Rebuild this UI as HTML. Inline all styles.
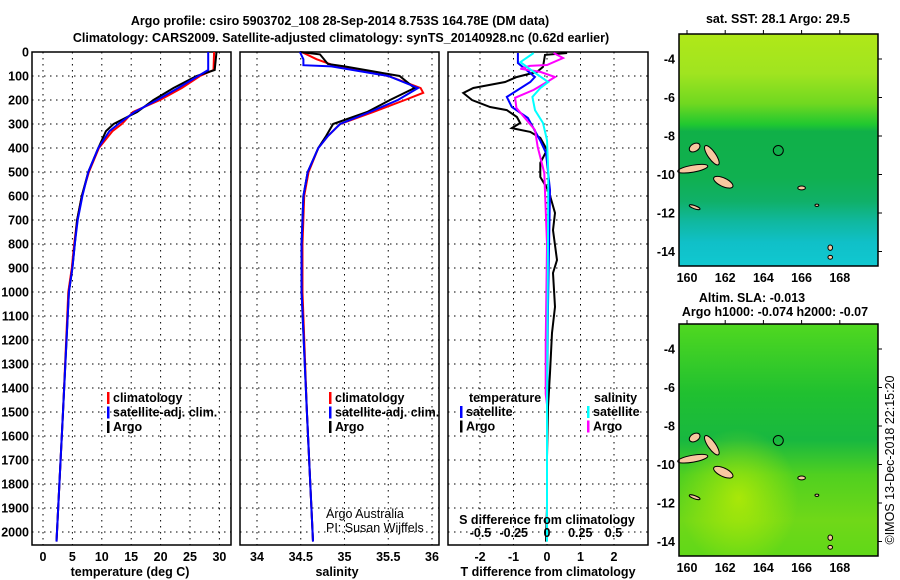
<!DOCTYPE html>
<html><head><meta charset="utf-8"><style>
body{margin:0;background:#fff}
svg{display:block;font-family:"Liberation Sans",sans-serif;font-weight:bold}
text{font-size:12.5px;fill:#000}
.n{font-weight:normal}
</style></head><body>
<svg id="s" width="900" height="580" viewBox="0 0 900 580" xmlns="http://www.w3.org/2000/svg">
<defs>
<linearGradient id="sst" x1="0" y1="0" x2="0" y2="1">
<stop offset="0" stop-color="#b0e818"/><stop offset="0.17" stop-color="#a0e420"/><stop offset="0.3" stop-color="#70d820"/><stop offset="0.39" stop-color="#20c830"/><stop offset="0.42" stop-color="#10b048"/><stop offset="0.62" stop-color="#10b050"/><stop offset="0.72" stop-color="#10b068"/><stop offset="0.81" stop-color="#10b8a0"/><stop offset="0.9" stop-color="#10c0c8"/><stop offset="1" stop-color="#10c8d0"/>
</linearGradient>
<linearGradient id="sla" x1="0" y1="0" x2="0" y2="1">
<stop offset="0" stop-color="#50d820"/><stop offset="0.3" stop-color="#20c030"/><stop offset="0.5" stop-color="#18b840"/><stop offset="0.65" stop-color="#50d020"/><stop offset="0.85" stop-color="#70d818"/><stop offset="1" stop-color="#60d818"/>
</linearGradient>
<radialGradient id="slaY" cx="0.3" cy="0.75" r="0.3"><stop offset="0" stop-color="#c8f000" stop-opacity="0.7"/><stop offset="1" stop-color="#c8f000" stop-opacity="0"/></radialGradient>
</defs>
<text x="340" y="25" text-anchor="middle">Argo profile: csiro 5903702_108 28-Sep-2014 8.753S 164.78E (DM data)</text>
<text x="341" y="42" text-anchor="middle">Climatology: CARS2009. Satellite-adjusted climatology: synTS_20140928.nc (0.62d earlier)</text>
<g id="g"></g>
</svg>
<script>
// ---- data ----
const depthTicks=[0,100,200,300,400,500,600,700,800,900,1000,1100,1200,1300,1400,1500,1600,1700,1800,1900,2000];
const tempTicks=[0,5,10,15,20,25,30];
const salTicks=[34,34.5,35,35.5,36];
const tdiffTicks=[-2,-1,0,1,2];
const sdiffTicks=[-0.5,-0.25,0,0.25,0.5];
const sdiffTickLabels=["-0.5","-0.25","0","0.25","0.5"];
const latTicks=[-4,-6,-8,-10,-12,-14];
const lonTicks=[160,162,164,166,168];

const tArgoD=[0,75,100,150,200,250,300,330,400,500,600,700,800,900,1000,1500,2040];
const tArgo=[29.5,29.2,26.1,22.2,18.8,16,12,10.7,9.4,7.7,6.6,5.8,5.4,5.0,4.4,3.4,2.3];
const tClimD=[0,75,100,150,200,250,300,330,400,500,600,700,800,900,1000,1500,2040];
const tClim=[29.1,29.0,26.7,23.6,19.9,15.3,13.4,11.8,9.5,7.8,6.6,5.8,5.3,4.9,4.3,3.4,2.3];
const tSatD=[0,75,100,150,200,250,300,330,400,500,600,700,800,900,1000,1500,2040];
const tSat=[28.1,28.1,26.4,23.0,19.4,15.6,12.8,11.3,9.4,7.7,6.7,5.9,5.4,5.0,4.4,3.4,2.3];

const sArgoD=[0,10,50,60,100,150,200,250,300,350,400,500,600,800,1000,1500,2040];
const sArgo=[34.49,34.72,34.81,35.0,35.63,35.8,35.52,35.26,34.87,34.79,34.7,34.58,34.53,34.51,34.51,34.57,34.64];
const sClimD=[0,30,55,100,150,170,200,250,300,350,400,500,600,800,1000,1500,2040];
const sClim=[34.51,34.68,34.87,35.5,35.87,35.9,35.69,35.33,34.95,34.81,34.7,34.59,34.54,34.52,34.52,34.57,34.64];
const sSatD=[0,30,55,60,100,150,200,250,300,350,400,500,600,800,1000,1500,2040];
const sSat=[34.49,34.53,34.53,34.85,35.5,35.84,35.61,35.29,34.95,34.81,34.7,34.58,34.53,34.51,34.51,34.57,34.64];

const dTArgoD=[4,12,62,83,104,125,150,171,200,229,242,271,296,317,333,358,408,462,521,567,604,671,742,867,921,1062,1171,1337,1479,1687,1896,2040];
const dTArgo=[0.6,-0.06,-0.12,-0.3,-0.9,-1.25,-2.2,-2.5,-2.24,-1.7,-1.2,-0.9,-0.8,-1.05,-0.5,-0.2,0,-0.2,-0.2,0,0.1,0.24,0.18,0.3,0.18,0.24,0.15,0.09,0.03,0,0,-0.03];
const dTSatD=[4,46,104,125,158,187,229,275,367,421,575,1062,1500];
const dTSat=[-0.87,-0.87,-0.36,-0.5,-0.87,-1.2,-1.05,-0.57,-0.21,-0.03,0.09,0.03,0];
const dSSatD=[4,42,83,125,150,187,242,296,367,504,1000,1500,2040];
const dSSat=[-0.1,-0.2,-0.1,0.01,-0.05,-0.11,-0.09,-0.03,0,0.01,0.005,0,0];
const dSArgoD=[4,25,54,58,70,83,104,125,158,191,233,325,396,504,800,1217,1425,1470];
const dSArgo=[0.05,0.12,0,-0.13,-0.2,-0.05,0.06,0,-0.1,-0.24,-0.23,-0.09,-0.07,-0.02,0,-0.01,-0.01,0];

const floatLon=164.78, floatLat=-8.753;
const islands=[[160.3,-9.7,0.8,0.18,-10],[160.4,-8.6,0.2,0.3,60],[161.3,-9.0,0.2,0.6,-35],[161.9,-10.4,0.55,0.22,25],[160.4,-11.7,0.3,0.08,20],[166.0,-10.7,0.2,0.1,0],[167.5,-13.8,0.12,0.14,0],[167.5,-14.3,0.12,0.1,0],[166.8,-11.6,0.1,0.06,0]];

// ---- helpers ----
const NS="http://www.w3.org/2000/svg";
const G=document.getElementById('g');
function mk(tag,at,parent){const e=document.createElementNS(NS,tag);for(const k in at)e.setAttribute(k,at[k]);(parent||G).appendChild(e);return e;}
const y=d=>52+d*0.24;
const yBot=545;
const xT=v=>43+v*5.88;
const xS=v=>257+(v-34)*87.5;
const xDT=v=>547+v*33.5;
const xDS=v=>547+v*133;

function panel(name,x0,x1,gridXs){
  const g=mk('g',{});
  
  
  depthTicks.forEach(d=>{const l=mk('line',{x1:x0,x2:x1,y1:y(d),y2:y(d),stroke:'#000','stroke-width':1,'stroke-dasharray':'1.5 4.5'},g);
    
    });
  gridXs.forEach(x=>{const l=mk('line',{x1:x,x2:x,y1:52,y2:yBot,stroke:'#000','stroke-width':1,'stroke-dasharray':'1.5 4.5'},g);
    
    });
  const r=mk('rect',{x:x0,y:52,width:x1-x0,height:yBot-52,fill:'none',stroke:'#000','stroke-width':1.5},g);
  
  
  return g;
}
function line(g,name,xs,ds,fx,color){
  const p=mk('polyline',{points:xs.map((v,i)=>fx(v).toFixed(1)+','+y(ds[i]).toFixed(1)).join(' '),fill:'none',stroke:color,'stroke-width':2},g);
  
  
}
function txt(s,x,yy,anchor,name,cls,size){
  const t=mk('text',{x:x,y:yy,'text-anchor':anchor||'start'});
  t.textContent=s;
  if(cls)t.setAttribute('class',cls);
  if(size)t.setAttribute('style','font-size:'+size+'px');
  
  
  return t;
}
function legend(x,y0,items,name){
  items.forEach((it,i)=>{
    const r=mk('rect',{x:x,y:y0+i*14.5-10,width:2.5,height:12,fill:it[1]});
    
    
    txt(it[0],x+6,y0+i*14.5,'start',name+'-entry');
  });
}

depthTicks.forEach(d=>txt(String(d),29,y(d)+4.5,'end','depth-tick-label'));

const p1=panel('temperature-panel',32,231,tempTicks.map(xT));
line(p1,'temp-climatology-line',tClim,tClimD,xT,'#f00');
line(p1,'temp-argo-line',tArgo,tArgoD,xT,'#000');
line(p1,'temp-satellite-line',tSat,tSatD,xT,'#00f');
tempTicks.forEach(v=>txt(String(v),xT(v),561,'middle','temp-tick-label'));
txt('temperature (deg C)',130,576,'middle','temp-axis-title');
legend(107,402,[['climatology','#f00'],['satellite-adj. clim.','#00f'],['Argo','#000']],'temp-legend');

const p2=panel('salinity-panel',240,439,salTicks.map(xS));
line(p2,'sal-climatology-line',sClim,sClimD,xS,'#f00');
line(p2,'sal-argo-line',sArgo,sArgoD,xS,'#000');
line(p2,'sal-satellite-line',sSat,sSatD,xS,'#00f');
salTicks.forEach(v=>txt(String(v),xS(v),561,'middle','sal-tick-label'));
txt('salinity',337,576,'middle','sal-axis-title');
legend(329,402,[['climatology','#f00'],['satellite-adj. clim.','#00f'],['Argo','#000']],'sal-legend');
txt('Argo Australia',326,518,'start','credit-line-1','n');
txt('PI: Susan Wijffels',326,532,'start','credit-line-2','n');

const p3=panel('difference-panel',448,648,tdiffTicks.map(xDT));
line(p3,'tdiff-argo-line',dTArgo,dTArgoD,xDT,'#000');
line(p3,'tdiff-satellite-line',dTSat,dTSatD,xDT,'#00f');
line(p3,'sdiff-argo-line',dSArgo,dSArgoD,xDS,'#f0f');
line(p3,'sdiff-satellite-line',dSSat,dSSatD,xDS,'#0ff');
tdiffTicks.forEach(v=>txt(String(v),xDT(v),561,'middle','tdiff-tick-label'));
txt('T difference from climatology',548,576,'middle','tdiff-axis-title');
sdiffTicks.forEach((v,i)=>txt(sdiffTickLabels[i],xDS(v),537,'middle','sdiff-tick-label'));
txt('S difference from climatology',547,524,'middle','sdiff-axis-title');
txt('temperature',469,402,'start','tdiff-legend-title');
legend(460,416,[['satellite','#00f'],['Argo','#000']],'tdiff-legend');
txt('salinity',594,402,'start','sdiff-legend-title');
legend(587,416,[['satellite','#0ff'],['Argo','#f0f']],'sdiff-legend');

function map(name,top,fill,extra){
  const x0=679,x1=878,y1=top+232;
  const mx=lon=>687+(lon-160)*19.1;
  const my=lat=>top+25+(-4-lat)*19.25;
  const g=mk('g',{});
  
  
  mk('rect',{x:x0,y:top,width:x1-x0,height:y1-top,fill:fill},g);
  if(extra)mk('rect',{x:x0,y:top,width:x1-x0,height:y1-top,fill:extra},g);
  islands.forEach(s=>{const e=mk('ellipse',{cx:mx(s[0]),cy:my(s[1]),rx:s[2]*19.1,ry:s[3]*19.25,fill:'#f8c8a0',stroke:'#000','stroke-width':1,transform:'rotate('+s[4]+' '+mx(s[0])+' '+my(s[1])+')'},g);
    
    });
  const c=mk('circle',{cx:mx(floatLon),cy:my(floatLat),r:5,fill:'none',stroke:'#000','stroke-width':1},g);
  
  
  const f=mk('rect',{x:x0,y:top,width:x1-x0,height:y1-top,fill:'none',stroke:'#000','stroke-width':1.5},g);
  
  
  latTicks.forEach(l=>{mk('line',{x1:x1,x2:x1+4,y1:my(l),y2:my(l),stroke:'#000'},g);
    txt(String(l),675,my(l)+4.5,'end','lat-tick-label');});
  lonTicks.forEach(l=>{mk('line',{x1:mx(l),x2:mx(l),y1:top-4,y2:top,stroke:'#000'},g);
    txt(String(l),mx(l),y1+16,'middle','lon-tick-label');});
}
map('sst-map',34,'url(#sst)');
txt('sat. SST: 28.1 Argo: 29.5',778,23,'middle','sst-map-title');
map('sla-map',324,'url(#sla)','url(#slaY)');
txt('Altim. SLA: -0.013',752,302,'middle','sla-map-title');
txt('Argo h1000: -0.074 h2000: -0.07',775,316,'middle','sla-map-subtitle');
const st=txt('©IMOS 13-Dec-2018 22:15:20',0,0,'middle','timestamp','n');
st.setAttribute('transform','translate(894,460) rotate(-90)');
</script>
</body></html>
